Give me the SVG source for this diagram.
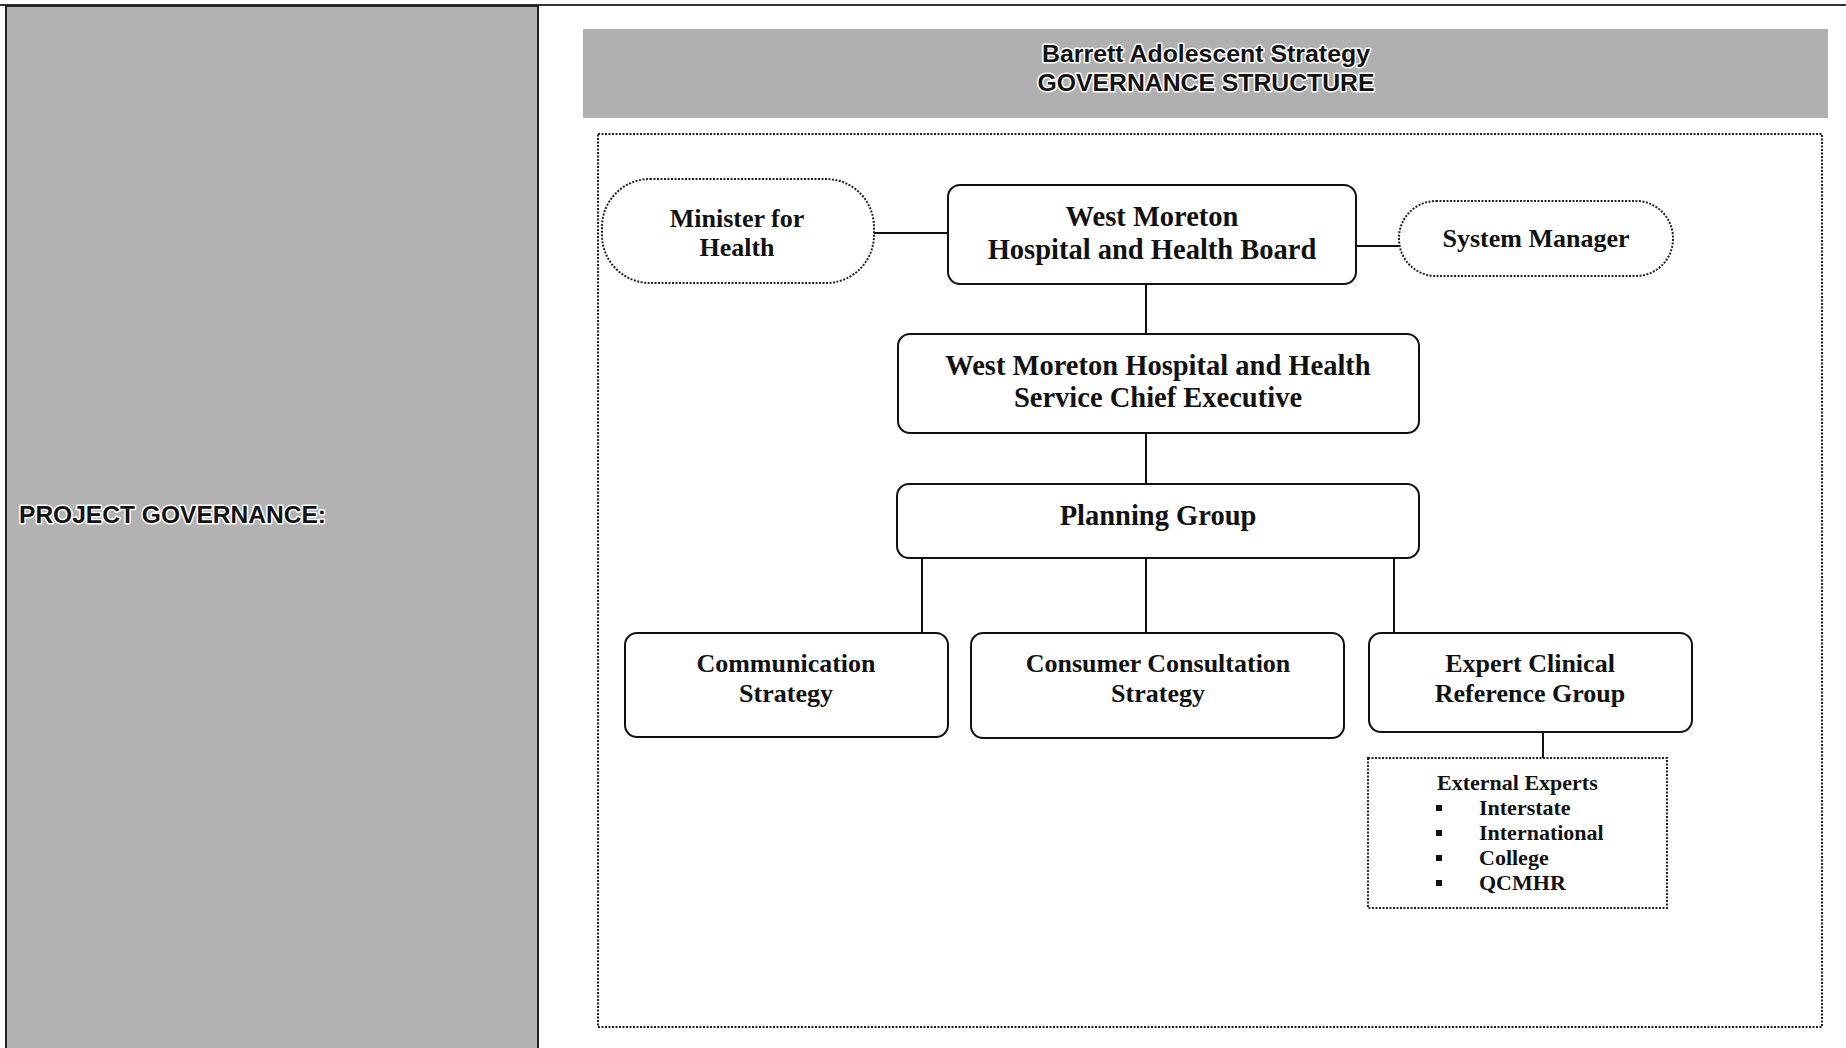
<svg xmlns="http://www.w3.org/2000/svg" width="1846" height="1048" viewBox="0 0 1846 1048">
<defs>
<style>
.panel{fill:#b2b2b2;stroke:#222;stroke-width:2}
.node{fill:#fff;stroke:#111;stroke-width:2}
.dot{fill:#fff;stroke:#222;stroke-width:2;stroke-dasharray:2 1.5}
.frame{fill:none;stroke:#222;stroke-width:2;stroke-dasharray:2 1.5}
.conn{stroke:#111;stroke-width:2;fill:none}
.t{font-family:"Liberation Serif","Times New Roman",serif;font-weight:bold;font-size:26px;text-anchor:middle;fill:#111}
.tl{font-family:"Liberation Serif","Times New Roman",serif;font-weight:bold;font-size:28.5px;text-anchor:middle;fill:#111}
.s{font-family:"Liberation Serif","Times New Roman",serif;font-weight:bold;font-size:22px;fill:#111}
.h{font-family:"Liberation Sans",Arial,sans-serif;font-weight:bold;font-size:24px;fill:#111;stroke:#fff;stroke-width:3;paint-order:stroke;stroke-linejoin:round}
</style>
</defs>
<rect width="1846" height="1048" fill="#fff"/>
<line x1="0" y1="5" x2="1846" y2="5" stroke="#333" stroke-width="2"/>
<g id="left-panel">
<rect class="panel" x="6" y="6" width="532" height="1050"/>
<text class="h" x="19" y="523" textLength="307" lengthAdjust="spacingAndGlyphs">PROJECT GOVERNANCE:</text>
</g>
<g id="title">
<rect x="583" y="29" width="1245" height="89" fill="#b0b0b0"/>
<text class="h" x="1206" y="62" text-anchor="middle" textLength="328" lengthAdjust="spacingAndGlyphs">Barrett Adolescent Strategy</text>
<text class="h" x="1206" y="91" text-anchor="middle" textLength="337" lengthAdjust="spacingAndGlyphs">GOVERNANCE STRUCTURE</text>
</g>
<rect id="frame" class="frame" x="598" y="134" width="1224" height="893"/>
<g id="connectors">
<line class="conn" x1="874" y1="233" x2="948" y2="233"/>
<line class="conn" x1="1356" y1="246" x2="1399" y2="246"/>
<line class="conn" x1="1146" y1="284" x2="1146" y2="334"/>
<line class="conn" x1="1146" y1="433" x2="1146" y2="484"/>
<line class="conn" x1="922" y1="558" x2="922" y2="633"/>
<line class="conn" x1="1146" y1="558" x2="1146" y2="633"/>
<line class="conn" x1="1394" y1="558" x2="1394" y2="633"/>
<line class="conn" x1="1543" y1="732" x2="1543" y2="758"/>
</g>
<g id="minister">
<rect class="dot" x="602" y="179" width="272" height="104" rx="48" ry="48"/>
<text class="t" x="737" y="227">Minister for</text>
<text class="t" x="737" y="256">Health</text>
</g>
<g id="board">
<rect class="node" x="948" y="185" width="408" height="99" rx="12"/>
<text class="tl" x="1152" y="226">West Moreton</text>
<text class="tl" x="1152" y="259">Hospital and Health Board</text>
</g>
<g id="system-manager">
<rect class="dot" x="1399" y="201" width="274" height="75" rx="37" ry="37"/>
<text class="t" x="1536" y="247">System Manager</text>
</g>
<g id="chief-executive">
<rect class="node" x="898" y="334" width="521" height="99" rx="12"/>
<text class="tl" x="1158" y="375">West Moreton Hospital and Health</text>
<text class="tl" x="1158" y="407">Service Chief Executive</text>
</g>
<g id="planning-group">
<rect class="node" x="897" y="484" width="522" height="74" rx="12"/>
<text class="tl" x="1158" y="525">Planning Group</text>
</g>
<g id="communication">
<rect class="node" x="625" y="633" width="323" height="104" rx="12"/>
<text class="t" x="786" y="672">Communication</text>
<text class="t" x="786" y="702">Strategy</text>
</g>
<g id="consumer">
<rect class="node" x="971" y="633" width="373" height="105" rx="12"/>
<text class="t" x="1158" y="672">Consumer Consultation</text>
<text class="t" x="1158" y="702">Strategy</text>
</g>
<g id="expert">
<rect class="node" x="1369" y="633" width="323" height="99" rx="12"/>
<text class="t" x="1530" y="672">Expert Clinical</text>
<text class="t" x="1530" y="702">Reference Group</text>
</g>
<g id="external-experts">
<rect class="dot" x="1368" y="758" width="299" height="150"/>
<text class="s" x="1437" y="790">External Experts</text>
<rect x="1436" y="805" width="6" height="6" fill="#111"/>
<rect x="1436" y="830" width="6" height="6" fill="#111"/>
<rect x="1436" y="855" width="6" height="6" fill="#111"/>
<rect x="1436" y="880" width="6" height="6" fill="#111"/>
<text class="s" x="1479" y="815">Interstate</text>
<text class="s" x="1479" y="840">International</text>
<text class="s" x="1479" y="865">College</text>
<text class="s" x="1479" y="890">QCMHR</text>
</g>
</svg>
